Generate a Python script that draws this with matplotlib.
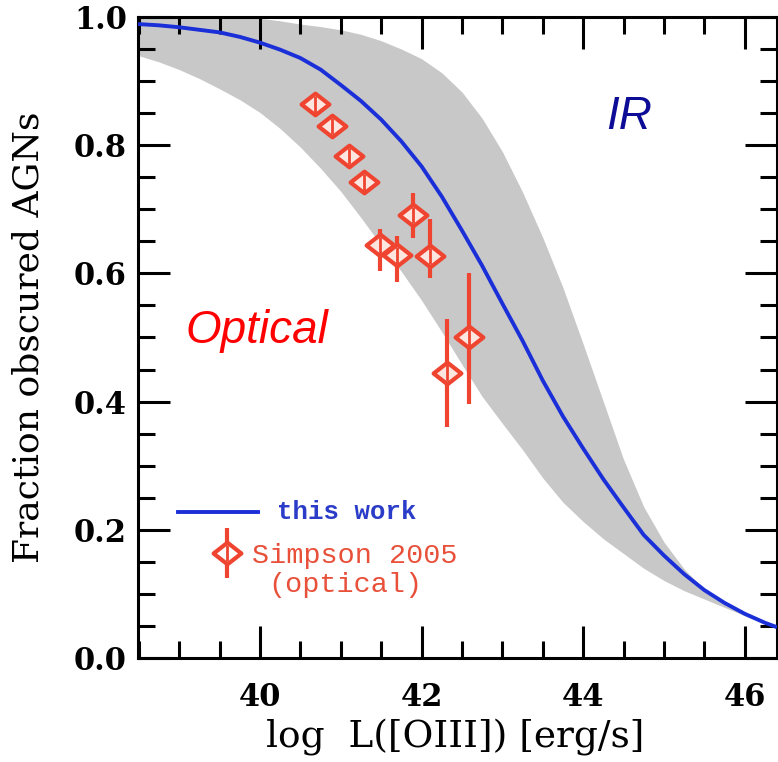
import numpy as np
import matplotlib
matplotlib.use("Agg")
import matplotlib.pyplot as plt
from matplotlib.path import Path
from matplotlib.ticker import MultipleLocator

# ---------------- data ----------------
# model curve ("this work") and its uncertainty band
lum_x = [38.49, 38.75, 39.00, 39.25, 39.50, 39.75, 40.00, 40.25, 40.50, 40.75,
         41.00, 41.25, 41.50, 41.75, 42.00, 42.25, 42.50, 42.75, 43.00, 43.25,
         43.50, 43.75, 44.00, 44.25, 44.50, 44.75, 45.00, 45.25, 45.50, 45.75,
         46.00, 46.25, 46.40]
curve_y = [0.989, 0.987, 0.984, 0.980, 0.976, 0.969, 0.960, 0.949, 0.936, 0.918,
           0.894, 0.869, 0.840, 0.806, 0.767, 0.720, 0.667, 0.612, 0.553, 0.495,
           0.433, 0.377, 0.327, 0.279, 0.235, 0.192, 0.160, 0.131, 0.106, 0.086,
           0.069, 0.055, 0.048]
band_hi = [1.020, 1.020, 1.020, 1.015, 1.010, 1.004, 0.998, 0.994, 0.989, 0.985,
           0.980, 0.973, 0.963, 0.950, 0.935, 0.913, 0.883, 0.842, 0.790, 0.727,
           0.656, 0.578, 0.490, 0.400, 0.310, 0.236, 0.181, 0.139, 0.107, 0.086,
           0.069, 0.055, 0.048]
band_lo = [0.940, 0.930, 0.918, 0.904, 0.888, 0.871, 0.851, 0.826, 0.797, 0.764,
           0.728, 0.687, 0.644, 0.603, 0.558, 0.509, 0.458, 0.408, 0.366, 0.325,
           0.281, 0.243, 0.213, 0.186, 0.163, 0.140, 0.121, 0.105, 0.092, 0.079,
           0.066, 0.054, 0.048]

# Simpson 2005 (optical)
simp_x = [40.68, 40.89, 41.10, 41.29, 41.90, 41.49, 41.70, 42.10, 42.31, 42.59]
simp_y = [0.864, 0.830, 0.783, 0.742, 0.691, 0.644, 0.628, 0.627, 0.445, 0.500]
simp_err_lo = [0.015, 0.015, 0.015, 0.015, 0.036, 0.041, 0.041, 0.034, 0.084, 0.103]
simp_err_hi = [0.015, 0.015, 0.015, 0.015, 0.034, 0.026, 0.031, 0.058, 0.084, 0.101]

x_major = [40, 42, 44, 46]
y_major = [0.0, 0.2, 0.4, 0.6, 0.8, 1.0]

# ---------------- styling ----------------
W, H = 778, 762
fig = plt.figure(figsize=(W / 100, H / 100), dpi=100)
L, R, T, B = 138, 777, 17, 658
ax = fig.add_axes([L / W, 1 - B / H, (R - L) / W, (B - T) / H])

RED = "#ee4430"
BLUE = "#1a2fd8"
GRAY = "#c8c8c8"

diamond = Path([(-1, 0), (0, 0.78), (1, 0), (0, -0.78), (-1, 0)],
               [Path.MOVETO, Path.LINETO, Path.LINETO, Path.LINETO, Path.CLOSEPOLY])

ax.fill_between(lum_x, band_lo, band_hi, color=GRAY, lw=0, zorder=1)
ax.plot(lum_x, curve_y, color=BLUE, lw=2.8, zorder=3, solid_capstyle="butt")
ax.errorbar(simp_x, simp_y, yerr=[simp_err_lo, simp_err_hi], fmt="none",
            ecolor=RED, elinewidth=3.0, capsize=0, zorder=4)
ax.plot(simp_x, simp_y, ls="none", marker=diamond, ms=20, mew=3.0,
        mec=RED, mfc="#fde6e0", zorder=5)
# inner vertical stroke through each diamond
ax.errorbar(simp_x, simp_y, yerr=0.013, fmt="none", ecolor=RED,
            elinewidth=2.0, capsize=0, zorder=6)

ax.set_xlim(38.49, 46.40)
ax.set_ylim(0.0, 1.0)
ax.set_xticks(x_major)
ax.set_yticks(y_major)
ax.set_yticklabels([f"{v:.1f}" for v in y_major])
ax.xaxis.set_minor_locator(MultipleLocator(0.5))
ax.yaxis.set_minor_locator(MultipleLocator(0.05))

ax.tick_params(which="both", direction="in", top=True, right=True, width=2.2,
               color="black")
ax.tick_params(which="major", length=23)
ax.tick_params(which="minor", length=12)
ax.tick_params(axis="x", which="major", pad=17)
ax.tick_params(axis="y", which="major", pad=8)
for lab in ax.get_xticklabels() + ax.get_yticklabels():
    lab.set_fontfamily("DejaVu Serif")
    lab.set_fontweight("bold")
    lab.set_fontsize(22)
for s in ax.spines.values():
    s.set_linewidth(2.2)

# annotations
ax.text(44.29, 0.825, "IR", color="#0c0c96", fontsize=33, style="italic",
        family="Liberation Sans", ha="left", va="baseline")
ax.text(39.08, 0.492, "Optical", color="#ff0000", fontsize=33, style="italic",
        family="Liberation Sans", ha="left", va="baseline")

# legend (drawn manually)
ax.plot([38.98, 39.97], [0.228, 0.228], color=BLUE, lw=2.8, zorder=6)
ax.text(40.21, 0.217, "this work", color="#2a3cc8", fontsize=18.5,
        family="Liberation Mono", weight="bold", ha="left", va="baseline")
ax.errorbar([39.59], [0.164], yerr=0.039, fmt="none", ecolor=RED,
            elinewidth=3.0, capsize=0, zorder=6)
ax.plot([39.59], [0.164], ls="none", marker=diamond, ms=20, mew=3.0,
        mec=RED, mfc="white", zorder=7)
ax.errorbar([39.59], [0.164], yerr=0.013, fmt="none", ecolor=RED,
            elinewidth=2.0, capsize=0, zorder=8)
ax.text(39.90, 0.148, "Simpson 2005", color="#e8503a", fontsize=20.5,
        family="Liberation Mono", ha="left", va="baseline")
ax.text(40.10, 0.103, "(optical)", color="#e8503a", fontsize=20.5,
        family="Liberation Mono", ha="left", va="baseline")

# axis labels
fig.text(455 / W, 1 - 747 / H, "log  L([OIII]) [erg/s]", family="DejaVu Serif",
         fontsize=27, ha="center", va="baseline")
fig.text(29 / W, 1 - 337 / H, "Fraction obscured AGNs", family="DejaVu Serif",
         fontsize=26, rotation=90, ha="center", va="center")

fig.savefig("out.png", dpi=100)
